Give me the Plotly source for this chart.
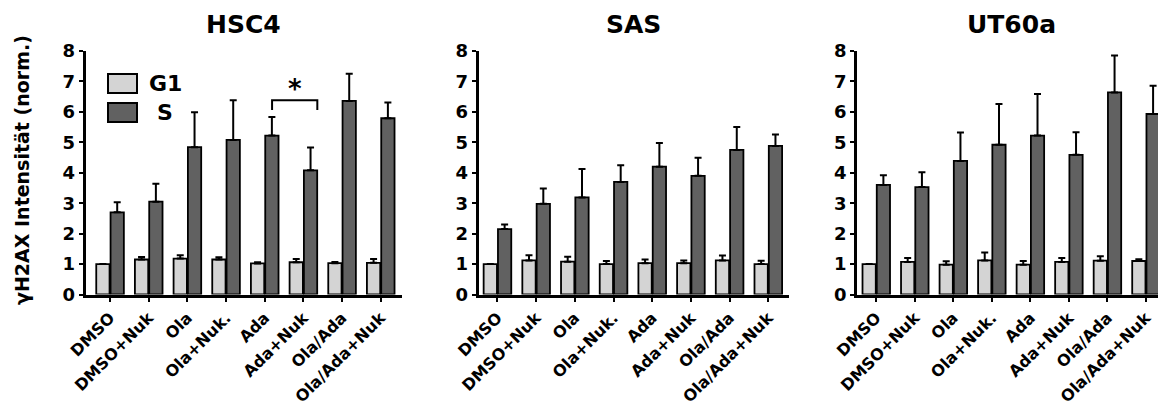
import plotly.graph_objects as go

categories = ["DMSO", "DMSO+Nuk", "Ola", "Ola+Nuk.", "Ada", "Ada+Nuk", "Ola/Ada", "Ola/Ada+Nuk"]
panels = ["HSC4", "SAS", "UT60a"]

hsc4_g1 = [1.00, 1.15, 1.18, 1.15, 1.02, 1.06, 1.03, 1.04]
hsc4_g1_err = [0.00, 0.08, 0.11, 0.07, 0.04, 0.11, 0.04, 0.13]
hsc4_s = [2.70, 3.05, 4.84, 5.08, 5.22, 4.08, 6.36, 5.79]
hsc4_s_err = [0.33, 0.59, 1.15, 1.30, 0.61, 0.75, 0.89, 0.52]

sas_g1 = [1.00, 1.12, 1.08, 1.00, 1.03, 1.03, 1.12, 1.00]
sas_g1_err = [0.00, 0.17, 0.16, 0.10, 0.12, 0.09, 0.16, 0.11]
sas_s = [2.15, 2.98, 3.19, 3.70, 4.20, 3.90, 4.75, 4.88]
sas_s_err = [0.15, 0.50, 0.93, 0.55, 0.78, 0.59, 0.75, 0.38]

ut60a_g1 = [1.00, 1.07, 0.98, 1.12, 0.98, 1.07, 1.11, 1.10]
ut60a_g1_err = [0.00, 0.13, 0.11, 0.26, 0.12, 0.13, 0.15, 0.06]
ut60a_s = [3.60, 3.53, 4.39, 4.92, 5.22, 4.59, 6.64, 5.93]
ut60a_s_err = [0.32, 0.49, 0.93, 1.34, 1.37, 0.74, 1.21, 0.93]

y_ticks = [0, 1, 2, 3, 4, 5, 6, 7, 8]

# page is 1166x408; the html body has an 8px margin, so the figure is 8px smaller
PAGE_W, PAGE_H = 1166, 408
OFF = 8
W, H = PAGE_W - OFF, PAGE_H - OFF
FONT = "DejaVu Sans"
G1_COLOR = "#d4d4d4"
S_COLOR = "#616161"


def px(xp):
    return (xp - OFF) / W


def py(yp):
    return (PAGE_H - yp) / H


data = [
    (hsc4_g1, hsc4_g1_err, hsc4_s, hsc4_s_err),
    (sas_g1, sas_g1_err, sas_s, sas_s_err),
    (ut60a_g1, ut60a_g1_err, ut60a_s, ut60a_s_err),
]

# page-pixel layout (left, right) of each panel's axes
x_px = [(85.5, 402), (478.5, 789), (857, 1166)]
x_ranges = [[-0.635, 7.55], [-0.49, 7.535], [-0.50, 7.52]]
y0_px, y8_px = 294.5, 51

fig = go.Figure()
for i, (g1, g1e, s, se) in enumerate(data):
    suffix = "" if i == 0 else str(i + 1)
    for vals, errs, color, name in [(g1, g1e, G1_COLOR, "G1"), (s, se, S_COLOR, "S")]:
        fig.add_trace(go.Bar(
            x=categories, y=vals, name=name, showlegend=False,
            marker=dict(color=color, line=dict(color="black", width=1.8)),
            error_y=dict(type="data", array=errs, arrayminus=[0] * len(errs),
                         symmetric=False, color="black", thickness=2, width=3.5),
            xaxis="x" + suffix, yaxis="y" + suffix,
        ))

ydom = [py(y0_px), py(y8_px)]
layout = dict(
    width=W, height=H,
    margin=dict(l=0, r=0, t=0, b=0),
    paper_bgcolor="white", plot_bgcolor="white",
    barmode="group", bargap=0.26, bargroupgap=0.07,
    font=dict(family=FONT, color="black", weight="bold"),
    showlegend=False,
)
for i in range(3):
    suffix = "" if i == 0 else str(i + 1)
    layout["xaxis" + suffix] = dict(
        domain=[px(x_px[i][0]), min(1.0, px(x_px[i][1]))], anchor="y" + suffix,
        type="category", range=x_ranges[i],
        showline=True, linecolor="black", linewidth=2.5,
        ticks="outside", ticklen=5, tickwidth=2, tickcolor="black",
        tickangle=-45, tickfont=dict(family=FONT, size=16, color="black", weight="bold"),
        showgrid=False, zeroline=False, automargin=False, fixedrange=True,
    )
    layout["yaxis" + suffix] = dict(
        domain=ydom, anchor="x" + suffix, range=[0, 8],
        tickvals=y_ticks, ticktext=[str(v) for v in y_ticks],
        showline=True, linecolor="black", linewidth=2.5,
        ticks="outside", ticklen=4, tickwidth=2, tickcolor="black",
        tickfont=dict(family=FONT, size=18, color="black", weight="bold"),
        showgrid=False, zeroline=False, automargin=False, fixedrange=True,
    )
fig.update_layout(**layout)

annotations = []
for i, name in enumerate(panels):
    annotations.append(dict(
        text=name, xref="paper", yref="paper",
        x=px((x_px[i][0] + x_px[i][1]) / 2), y=py(25),
        xanchor="center", yanchor="middle", showarrow=False,
        font=dict(family=FONT, size=25, color="black", weight="bold"),
    ))
annotations.append(dict(
    text="γH2AX Intensität (norm.)", xref="paper", yref="paper",
    x=px(22), y=py(170), textangle=-90,
    xanchor="center", yanchor="middle", showarrow=False,
    font=dict(family=FONT, size=19, color="black", weight="bold"),
))
# legend labels
annotations.append(dict(text="G1", xref="paper", yref="paper", x=px(165), y=py(83),
                        xanchor="center", yanchor="middle", showarrow=False,
                        font=dict(family=FONT, size=22, color="black", weight="bold")))
annotations.append(dict(text="S", xref="paper", yref="paper", x=px(165), y=py(112),
                        xanchor="center", yanchor="middle", showarrow=False,
                        font=dict(family=FONT, size=22, color="black", weight="bold")))
# significance asterisk
annotations.append(dict(text="*", xref="x", yref="y", x=4.775, y=6.38,
                        xanchor="center", yanchor="bottom", showarrow=False, yshift=-6,
                        font=dict(family=FONT, size=26, color="black", weight="bold")))

shapes = [
    dict(type="rect", xref="paper", yref="paper", x0=px(108), x1=px(137),
         y0=py(93), y1=py(74), fillcolor=G1_COLOR,
         line=dict(color="black", width=2)),
    dict(type="rect", xref="paper", yref="paper", x0=px(108), x1=px(137),
         y0=py(122), y1=py(103), fillcolor=S_COLOR,
         line=dict(color="black", width=2)),
    dict(type="path", xref="x", yref="y",
         path="M 4.19 6.06 L 4.19 6.38 L 5.36 6.38 L 5.36 6.06",
         line=dict(color="black", width=2)),
]
fig.update_layout(annotations=annotations, shapes=shapes)

fig.write_html("out.html")
